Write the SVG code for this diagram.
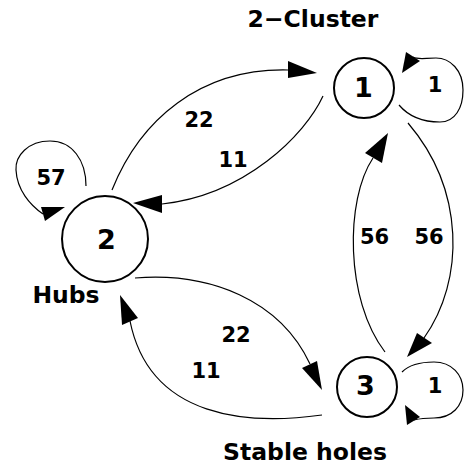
<svg xmlns="http://www.w3.org/2000/svg" width="464" height="468" viewBox="0 0 464 468">
<style>
.node{fill:#fff;stroke:#000;stroke-width:2}
.edge{fill:none;stroke:#000;stroke-width:1.2}
.head{fill:#000;stroke:none}
text{font-family:"DejaVu Sans","Liberation Sans",sans-serif;font-weight:bold;fill:#000;text-anchor:middle}
.nl{font-size:27px}
.el{font-size:21px}
.tl{font-size:23.5px}
</style>
<rect width="464" height="468" fill="#fff"/>
<g id="edges">
<path class="edge" d="M112,190 C140,120 200,68 288,70"/>
<polygon class="head" points="288,61 317,73 288,78"/>
<path class="edge" d="M323,96 C305,135 245,195 162,204"/>
<polygon class="head" points="162,195 133,203 162,213"/>
<path class="edge" d="M86,186 C86,160 72,141 50,141 C28,141 15,156 16,170 C17,190 30,205 43,214"/>
<polygon class="head" points="41,207 65,207 45,221"/>
<path class="edge" d="M399,105 C410,118 425,122 440,122 C455,122 463,108 463,90 C463,70 450,58 436,58 C425,58 418,60 413,57"/>
<polygon class="head" points="406,52 420,61 402,73"/>
<path class="edge" d="M408,123 C465,190 465,280 424,338"/>
<polygon class="head" points="417,333 432,343 407,357"/>
<path class="edge" d="M385,352 C345,300 345,200 373,158"/>
<polygon class="head" points="365,153 382,163 388,133"/>
<path class="edge" d="M135,278 C210,272 280,300 310,364"/>
<polygon class="head" points="302,368 317,361 322,390"/>
<path class="edge" d="M322,415 C250,425 150,420 130,321"/>
<polygon class="head" points="120,295 138,318 122,325"/>
<path class="edge" d="M402,372 C410,364 422,362 434,362 C452,362 463,375 463,390 C463,406 452,418 434,418 C425,418 418,419 414,420"/>
<polygon class="head" points="405,405 420,417 407,425"/>
<text class="el" x="199" y="127">22</text>
<text class="el" x="233" y="167">11</text>
<text class="el" x="51" y="185">57</text>
<text class="el" x="374.5" y="244">56</text>
<text class="el" x="429" y="244">56</text>
<text class="el" x="435" y="92">1</text>
<text class="el" x="435" y="393">1</text>
<text class="el" x="236" y="342">22</text>
<text class="el" x="206" y="378">11</text>
</g>
<g id="n1">
<circle class="node" cx="364" cy="88" r="30"/>
<text class="nl" x="363.5" y="97">1</text>
<text class="tl" x="313" y="27">2−Cluster</text>
</g>
<g id="n2">
<circle class="node" cx="105" cy="239" r="43"/>
<text class="nl" x="106.5" y="249">2</text>
<text class="tl" x="66" y="303">Hubs</text>
</g>
<g id="n3">
<circle class="node" cx="367" cy="387" r="30"/>
<text class="nl" x="365.5" y="395">3</text>
<text class="tl" x="305" y="460">Stable holes</text>
</g>
</svg>
